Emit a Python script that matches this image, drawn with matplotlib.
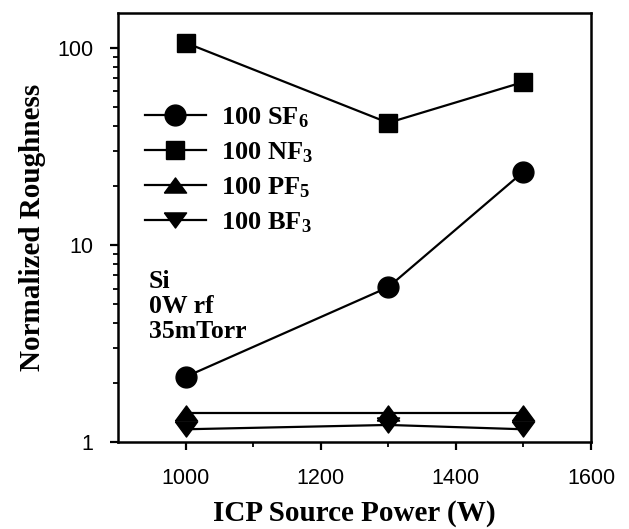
import matplotlib
matplotlib.use('Agg')
import matplotlib.pyplot as plt
from matplotlib.ticker import FixedLocator, NullFormatter

# data
power = [1000, 1300, 1500]
sf6 = [2.14, 6.1, 23.5]
nf3 = [106, 41.6, 67]
pf5 = [1.40, 1.40, 1.40]
bf3 = [1.16, 1.22, 1.16]

labels = ['100 SF$_6$', '100 NF$_3$', '100 PF$_5$', '100 BF$_3$']
x_ticks = [1000, 1200, 1400, 1600]

# flat triangles like in the original
tri_up = [(-1, -0.68), (1, -0.68), (0, 0.68), (-1, -0.68)]
tri_dn = [(-1, 0.68), (1, 0.68), (0, -0.68), (-1, 0.68)]
markers = ['o', 's', tri_up, tri_dn]
msizes = [15, 13, 16, 16]

plt.rcParams['mathtext.fontset'] = 'custom'
plt.rcParams['mathtext.rm'] = 'Liberation Serif:bold'
plt.rcParams['mathtext.it'] = 'Liberation Serif:bold'
plt.rcParams['mathtext.bf'] = 'Liberation Serif:bold'

fig = plt.figure(figsize=(6.29, 5.29), dpi=100)
ax = fig.add_axes([0.1876, 0.1645, 0.7520, 0.8109])

for ys, lab, m, ms in zip([sf6, nf3, pf5, bf3], labels, markers, msizes):
    ax.plot(power, ys, color='black', lw=1.6, marker=m, markersize=ms,
            markerfacecolor='black', markeredgecolor='black', label=lab)

ax.set_yscale('log')
ax.set_xlim(900, 1600)
ax.set_ylim(1, 150)

ax.set_xticks(x_ticks)
ax.xaxis.set_minor_locator(FixedLocator([1100, 1300, 1500]))
ax.set_yticks([1, 10, 100])
ax.set_yticklabels(['1', '10', '100'])
ax.yaxis.set_minor_formatter(NullFormatter())

for lbl in ax.get_xticklabels() + ax.get_yticklabels():
    lbl.set_fontfamily('Liberation Sans')
    lbl.set_fontsize(15.5)

ax.tick_params(which='major', direction='out', length=6, width=1.6)
ax.tick_params(which='minor', direction='out', length=3.5, width=1.3)
ax.tick_params(axis='x', which='major', pad=13)
ax.tick_params(axis='y', which='major', pad=12)

for s in ax.spines.values():
    s.set_linewidth(1.8)

ax.set_xlabel('ICP Source Power (W)', fontfamily='Liberation Serif',
              fontweight='bold', fontsize=21, labelpad=8)
ax.set_ylabel('Normalized Roughness', fontfamily='Liberation Serif',
              fontweight='bold', fontsize=21, labelpad=8)

leg = ax.legend(loc='upper left', bbox_to_anchor=(0.057, 0.784), frameon=False,
                prop={'family': 'Liberation Serif', 'weight': 'bold', 'size': 19},
                handlelength=2.3, handletextpad=0.6, labelspacing=0.39,
                borderaxespad=0.0, borderpad=0.0)

ax.text(0.065, 0.40, 'Si\n0W rf\n35mTorr', transform=ax.transAxes,
        fontfamily='Liberation Serif', fontweight='bold', fontsize=18.5,
        va='top', ha='left', linespacing=1.1)

fig.savefig('out.png', dpi=100)
